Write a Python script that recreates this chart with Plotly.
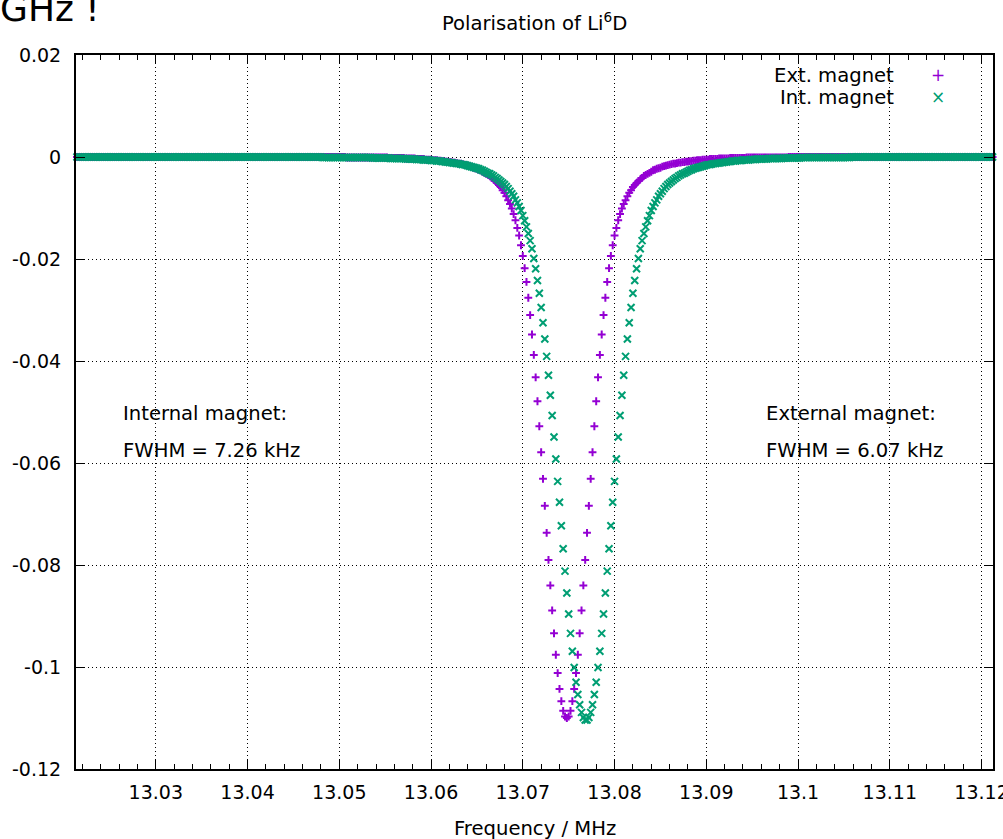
import plotly.graph_objects as go

# Frequency sweep (MHz): 501 points, 0.2 kHz apart
FREQ_MHZ = [
    13.0214, 13.0216, 13.0218, 13.0220, 13.0222, 13.0224, 13.0226, 13.0228, 13.0230, 13.0232,
    13.0234, 13.0236, 13.0238, 13.0240, 13.0242, 13.0244, 13.0246, 13.0248, 13.0250, 13.0252,
    13.0254, 13.0256, 13.0258, 13.0260, 13.0262, 13.0264, 13.0266, 13.0268, 13.0270, 13.0272,
    13.0274, 13.0276, 13.0278, 13.0280, 13.0282, 13.0284, 13.0286, 13.0288, 13.0290, 13.0292,
    13.0294, 13.0296, 13.0298, 13.0300, 13.0302, 13.0304, 13.0306, 13.0308, 13.0310, 13.0312,
    13.0314, 13.0316, 13.0318, 13.0320, 13.0322, 13.0324, 13.0326, 13.0328, 13.0330, 13.0332,
    13.0334, 13.0336, 13.0338, 13.0340, 13.0342, 13.0344, 13.0346, 13.0348, 13.0350, 13.0352,
    13.0354, 13.0356, 13.0358, 13.0360, 13.0362, 13.0364, 13.0366, 13.0368, 13.0370, 13.0372,
    13.0374, 13.0376, 13.0378, 13.0380, 13.0382, 13.0384, 13.0386, 13.0388, 13.0390, 13.0392,
    13.0394, 13.0396, 13.0398, 13.0400, 13.0402, 13.0404, 13.0406, 13.0408, 13.0410, 13.0412,
    13.0414, 13.0416, 13.0418, 13.0420, 13.0422, 13.0424, 13.0426, 13.0428, 13.0430, 13.0432,
    13.0434, 13.0436, 13.0438, 13.0440, 13.0442, 13.0444, 13.0446, 13.0448, 13.0450, 13.0452,
    13.0454, 13.0456, 13.0458, 13.0460, 13.0462, 13.0464, 13.0466, 13.0468, 13.0470, 13.0472,
    13.0474, 13.0476, 13.0478, 13.0480, 13.0482, 13.0484, 13.0486, 13.0488, 13.0490, 13.0492,
    13.0494, 13.0496, 13.0498, 13.0500, 13.0502, 13.0504, 13.0506, 13.0508, 13.0510, 13.0512,
    13.0514, 13.0516, 13.0518, 13.0520, 13.0522, 13.0524, 13.0526, 13.0528, 13.0530, 13.0532,
    13.0534, 13.0536, 13.0538, 13.0540, 13.0542, 13.0544, 13.0546, 13.0548, 13.0550, 13.0552,
    13.0554, 13.0556, 13.0558, 13.0560, 13.0562, 13.0564, 13.0566, 13.0568, 13.0570, 13.0572,
    13.0574, 13.0576, 13.0578, 13.0580, 13.0582, 13.0584, 13.0586, 13.0588, 13.0590, 13.0592,
    13.0594, 13.0596, 13.0598, 13.0600, 13.0602, 13.0604, 13.0606, 13.0608, 13.0610, 13.0612,
    13.0614, 13.0616, 13.0618, 13.0620, 13.0622, 13.0624, 13.0626, 13.0628, 13.0630, 13.0632,
    13.0634, 13.0636, 13.0638, 13.0640, 13.0642, 13.0644, 13.0646, 13.0648, 13.0650, 13.0652,
    13.0654, 13.0656, 13.0658, 13.0660, 13.0662, 13.0664, 13.0666, 13.0668, 13.0670, 13.0672,
    13.0674, 13.0676, 13.0678, 13.0680, 13.0682, 13.0684, 13.0686, 13.0688, 13.0690, 13.0692,
    13.0694, 13.0696, 13.0698, 13.0700, 13.0702, 13.0704, 13.0706, 13.0708, 13.0710, 13.0712,
    13.0714, 13.0716, 13.0718, 13.0720, 13.0722, 13.0724, 13.0726, 13.0728, 13.0730, 13.0732,
    13.0734, 13.0736, 13.0738, 13.0740, 13.0742, 13.0744, 13.0746, 13.0748, 13.0750, 13.0752,
    13.0754, 13.0756, 13.0758, 13.0760, 13.0762, 13.0764, 13.0766, 13.0768, 13.0770, 13.0772,
    13.0774, 13.0776, 13.0778, 13.0780, 13.0782, 13.0784, 13.0786, 13.0788, 13.0790, 13.0792,
    13.0794, 13.0796, 13.0798, 13.0800, 13.0802, 13.0804, 13.0806, 13.0808, 13.0810, 13.0812,
    13.0814, 13.0816, 13.0818, 13.0820, 13.0822, 13.0824, 13.0826, 13.0828, 13.0830, 13.0832,
    13.0834, 13.0836, 13.0838, 13.0840, 13.0842, 13.0844, 13.0846, 13.0848, 13.0850, 13.0852,
    13.0854, 13.0856, 13.0858, 13.0860, 13.0862, 13.0864, 13.0866, 13.0868, 13.0870, 13.0872,
    13.0874, 13.0876, 13.0878, 13.0880, 13.0882, 13.0884, 13.0886, 13.0888, 13.0890, 13.0892,
    13.0894, 13.0896, 13.0898, 13.0900, 13.0902, 13.0904, 13.0906, 13.0908, 13.0910, 13.0912,
    13.0914, 13.0916, 13.0918, 13.0920, 13.0922, 13.0924, 13.0926, 13.0928, 13.0930, 13.0932,
    13.0934, 13.0936, 13.0938, 13.0940, 13.0942, 13.0944, 13.0946, 13.0948, 13.0950, 13.0952,
    13.0954, 13.0956, 13.0958, 13.0960, 13.0962, 13.0964, 13.0966, 13.0968, 13.0970, 13.0972,
    13.0974, 13.0976, 13.0978, 13.0980, 13.0982, 13.0984, 13.0986, 13.0988, 13.0990, 13.0992,
    13.0994, 13.0996, 13.0998, 13.1000, 13.1002, 13.1004, 13.1006, 13.1008, 13.1010, 13.1012,
    13.1014, 13.1016, 13.1018, 13.1020, 13.1022, 13.1024, 13.1026, 13.1028, 13.1030, 13.1032,
    13.1034, 13.1036, 13.1038, 13.1040, 13.1042, 13.1044, 13.1046, 13.1048, 13.1050, 13.1052,
    13.1054, 13.1056, 13.1058, 13.1060, 13.1062, 13.1064, 13.1066, 13.1068, 13.1070, 13.1072,
    13.1074, 13.1076, 13.1078, 13.1080, 13.1082, 13.1084, 13.1086, 13.1088, 13.1090, 13.1092,
    13.1094, 13.1096, 13.1098, 13.1100, 13.1102, 13.1104, 13.1106, 13.1108, 13.1110, 13.1112,
    13.1114, 13.1116, 13.1118, 13.1120, 13.1122, 13.1124, 13.1126, 13.1128, 13.1130, 13.1132,
    13.1134, 13.1136, 13.1138, 13.1140, 13.1142, 13.1144, 13.1146, 13.1148, 13.1150, 13.1152,
    13.1154, 13.1156, 13.1158, 13.1160, 13.1162, 13.1164, 13.1166, 13.1168, 13.1170, 13.1172,
    13.1174, 13.1176, 13.1178, 13.1180, 13.1182, 13.1184, 13.1186, 13.1188, 13.1190, 13.1192,
    13.1194, 13.1196, 13.1198, 13.1200, 13.1202, 13.1204, 13.1206, 13.1208, 13.1210, 13.1212,
    13.1214,
]

# Polarisation, external magnet (purple +)
EXT_MAGNET = [
    0, 0, 0, 0, 0, 0, 0, 0, 0, 0,
    0, 0, 0, 0, 0, 0, 0, 0, 0, 0,
    0, 0, 0, 0, 0, 0, 0, 0, 0, 0,
    0, 0, 0, 0, 0, 0, 0, 0, 0, 0,
    0, 0, 0, 0, 0, 0, 0, 0, 0, 0,
    0, 0, 0, 0, 0, 0, 0, 0, 0, 0,
    0, 0, 0, 0, 0, 0, 0, 0, 0, 0,
    0, 0, 0, 0, 0, 0, 0, 0, 0, 0,
    0, 0, 0, 0, 0, 0, 0, 0, 0, 0,
    0, 0, 0, 0, 0, 0, 0, 0, 0, 0,
    0, 0, 0, 0, 0, 0, 0, 0, 0, 0,
    0, 0, 0, 0, 0, 0, 0, 0, 0, 0,
    0, 0, 0, 0, 0, 0, 0, 0, 0, 0,
    0, 0, 0, 0, 0, 0, 0, 0, 0, 0,
    0, 0, 0, 0, 0, 0, 0, -0.0001, -0.0001, -0.0001,
    -0.0001, -0.0001, -0.0001, -0.0001, -0.0001, -0.0001, -0.0001, -0.0001, -0.0001, -0.0001,
    -0.0001, -0.0001, -0.0001, -0.0001, -0.0001, -0.0001, -0.0001, -0.0001, -0.0001, -0.0001,
    -0.0002, -0.0002, -0.0002, -0.0002, -0.0002, -0.0002, -0.0002, -0.0002, -0.0002, -0.0003,
    -0.0003, -0.0003, -0.0003, -0.0003, -0.0003, -0.0004, -0.0004, -0.0004, -0.0004, -0.0004,
    -0.0005, -0.0005, -0.0005, -0.0005, -0.0006, -0.0006, -0.0006, -0.0007, -0.0007, -0.0008,
    -0.0008, -0.0009, -0.0009, -0.0010, -0.0010, -0.0011, -0.0011, -0.0012, -0.0013, -0.0013,
    -0.0014, -0.0015, -0.0016, -0.0017, -0.0018, -0.0019, -0.0021, -0.0022, -0.0023, -0.0025,
    -0.0026, -0.0029, -0.0031, -0.0033, -0.0035, -0.0037, -0.0041, -0.0044, -0.0047, -0.0051,
    -0.0055, -0.0059, -0.0065, -0.0070, -0.0077, -0.0085, -0.0092, -0.0101, -0.0112, -0.0124,
    -0.0139, -0.0154, -0.0173, -0.0194, -0.0218, -0.0245, -0.0276, -0.0310, -0.0348, -0.0388,
    -0.0432, -0.0479, -0.0528, -0.0579, -0.0631, -0.0684, -0.0737, -0.0790, -0.0840, -0.0889,
    -0.0934, -0.0976, -0.1012, -0.1043, -0.1067, -0.1086, -0.1097, -0.1100, -0.1097, -0.1086,
    -0.1067, -0.1043, -0.1012, -0.0976, -0.0934, -0.0889, -0.0840, -0.0790, -0.0737, -0.0684,
    -0.0631, -0.0579, -0.0528, -0.0479, -0.0432, -0.0388, -0.0348, -0.0310, -0.0276, -0.0245,
    -0.0218, -0.0194, -0.0173, -0.0154, -0.0139, -0.0124, -0.0112, -0.0101, -0.0092, -0.0085,
    -0.0077, -0.0070, -0.0065, -0.0059, -0.0055, -0.0051, -0.0047, -0.0044, -0.0041, -0.0037,
    -0.0035, -0.0033, -0.0031, -0.0029, -0.0026, -0.0025, -0.0023, -0.0022, -0.0021, -0.0019,
    -0.0018, -0.0017, -0.0016, -0.0015, -0.0014, -0.0013, -0.0013, -0.0012, -0.0011, -0.0011,
    -0.0010, -0.0010, -0.0009, -0.0009, -0.0008, -0.0008, -0.0007, -0.0007, -0.0006, -0.0006,
    -0.0006, -0.0005, -0.0005, -0.0005, -0.0005, -0.0004, -0.0004, -0.0004, -0.0004, -0.0004,
    -0.0003, -0.0003, -0.0003, -0.0003, -0.0003, -0.0003, -0.0002, -0.0002, -0.0002, -0.0002,
    -0.0002, -0.0002, -0.0002, -0.0002, -0.0002, -0.0001, -0.0001, -0.0001, -0.0001, -0.0001,
    -0.0001, -0.0001, -0.0001, -0.0001, -0.0001, -0.0001, -0.0001, -0.0001, -0.0001, -0.0001,
    -0.0001, -0.0001, -0.0001, -0.0001, -0.0001, -0.0001, -0.0001, -0.0001, 0, 0,
    0, 0, 0, 0, 0, 0, 0, 0, 0, 0,
    0, 0, 0, 0, 0, 0, 0, 0, 0, 0,
    0, 0, 0, 0, 0, 0, 0, 0, 0, 0,
    0, 0, 0, 0, 0, 0, 0, 0, 0, 0,
    0, 0, 0, 0, 0, 0, 0, 0, 0, 0,
    0, 0, 0, 0, 0, 0, 0, 0, 0, 0,
    0, 0, 0, 0, 0, 0, 0, 0, 0, 0,
    0, 0, 0, 0, 0, 0, 0, 0, 0, 0,
    0, 0, 0, 0, 0, 0, 0, 0, 0, 0,
    0, 0, 0, 0, 0, 0, 0, 0, 0, 0,
    0, 0, 0, 0, 0, 0, 0, 0, 0, 0,
    0,
]

# Polarisation, internal magnet (green x)
INT_MAGNET = [
    0, 0, 0, 0, 0, 0, 0, 0, 0, 0,
    0, 0, 0, 0, 0, 0, 0, 0, 0, 0,
    0, 0, 0, 0, 0, 0, 0, 0, 0, 0,
    0, 0, 0, 0, 0, 0, 0, 0, 0, 0,
    0, 0, 0, 0, 0, 0, 0, 0, 0, 0,
    0, 0, 0, 0, 0, 0, 0, 0, 0, 0,
    0, 0, 0, 0, 0, 0, 0, 0, 0, 0,
    0, 0, 0, 0, 0, 0, 0, 0, 0, 0,
    0, 0, 0, 0, 0, 0, 0, 0, 0, 0,
    0, 0, 0, 0, 0, 0, 0, 0, 0, 0,
    0, 0, 0, 0, 0, 0, 0, 0, 0, 0,
    0, 0, 0, 0, 0, 0, 0, 0, 0, 0,
    0, 0, 0, 0, 0, 0, 0, 0, 0, 0,
    0, 0, 0, 0, -0.0001, -0.0001, -0.0001, -0.0001, -0.0001, -0.0001,
    -0.0001, -0.0001, -0.0001, -0.0001, -0.0001, -0.0001, -0.0001, -0.0001, -0.0001, -0.0001,
    -0.0001, -0.0001, -0.0001, -0.0001, -0.0001, -0.0001, -0.0001, -0.0001, -0.0001, -0.0001,
    -0.0001, -0.0002, -0.0002, -0.0002, -0.0002, -0.0002, -0.0002, -0.0002, -0.0002, -0.0002,
    -0.0002, -0.0003, -0.0003, -0.0003, -0.0003, -0.0003, -0.0003, -0.0003, -0.0003, -0.0004,
    -0.0004, -0.0004, -0.0004, -0.0004, -0.0004, -0.0005, -0.0005, -0.0005, -0.0005, -0.0006,
    -0.0006, -0.0006, -0.0006, -0.0007, -0.0007, -0.0007, -0.0008, -0.0008, -0.0008, -0.0009,
    -0.0009, -0.0010, -0.0010, -0.0011, -0.0011, -0.0012, -0.0012, -0.0013, -0.0013, -0.0014,
    -0.0015, -0.0015, -0.0016, -0.0017, -0.0018, -0.0019, -0.0020, -0.0021, -0.0022, -0.0023,
    -0.0025, -0.0026, -0.0028, -0.0030, -0.0032, -0.0033, -0.0035, -0.0037, -0.0040, -0.0042,
    -0.0045, -0.0048, -0.0051, -0.0054, -0.0058, -0.0062, -0.0067, -0.0072, -0.0077, -0.0084,
    -0.0090, -0.0097, -0.0105, -0.0115, -0.0125, -0.0137, -0.0150, -0.0164, -0.0180, -0.0199,
    -0.0219, -0.0242, -0.0267, -0.0295, -0.0325, -0.0357, -0.0391, -0.0428, -0.0467, -0.0507,
    -0.0549, -0.0592, -0.0636, -0.0677, -0.0723, -0.0768, -0.0812, -0.0855, -0.0896, -0.0934,
    -0.0969, -0.1001, -0.1030, -0.1054, -0.1074, -0.1089, -0.1099, -0.1104, -0.1104, -0.1099,
    -0.1089, -0.1074, -0.1054, -0.1030, -0.1001, -0.0969, -0.0934, -0.0896, -0.0855, -0.0812,
    -0.0768, -0.0723, -0.0677, -0.0636, -0.0592, -0.0549, -0.0507, -0.0467, -0.0428, -0.0391,
    -0.0357, -0.0325, -0.0295, -0.0267, -0.0242, -0.0219, -0.0199, -0.0180, -0.0164, -0.0150,
    -0.0137, -0.0125, -0.0115, -0.0105, -0.0097, -0.0090, -0.0084, -0.0077, -0.0072, -0.0067,
    -0.0062, -0.0058, -0.0054, -0.0051, -0.0048, -0.0045, -0.0042, -0.0040, -0.0037, -0.0035,
    -0.0033, -0.0032, -0.0030, -0.0028, -0.0026, -0.0025, -0.0023, -0.0022, -0.0021, -0.0020,
    -0.0019, -0.0018, -0.0017, -0.0016, -0.0015, -0.0015, -0.0014, -0.0013, -0.0013, -0.0012,
    -0.0012, -0.0011, -0.0011, -0.0010, -0.0010, -0.0009, -0.0009, -0.0008, -0.0008, -0.0008,
    -0.0007, -0.0007, -0.0007, -0.0006, -0.0006, -0.0006, -0.0006, -0.0005, -0.0005, -0.0005,
    -0.0005, -0.0004, -0.0004, -0.0004, -0.0004, -0.0004, -0.0004, -0.0003, -0.0003, -0.0003,
    -0.0003, -0.0003, -0.0003, -0.0003, -0.0003, -0.0002, -0.0002, -0.0002, -0.0002, -0.0002,
    -0.0002, -0.0002, -0.0002, -0.0002, -0.0002, -0.0001, -0.0001, -0.0001, -0.0001, -0.0001,
    -0.0001, -0.0001, -0.0001, -0.0001, -0.0001, -0.0001, -0.0001, -0.0001, -0.0001, -0.0001,
    -0.0001, -0.0001, -0.0001, -0.0001, -0.0001, -0.0001, -0.0001, -0.0001, -0.0001, -0.0001,
    -0.0001, -0.0001, 0, 0, 0, 0, 0, 0, 0, 0,
    0, 0, 0, 0, 0, 0, 0, 0, 0, 0,
    0, 0, 0, 0, 0, 0, 0, 0, 0, 0,
    0, 0, 0, 0, 0, 0, 0, 0, 0, 0,
    0, 0, 0, 0, 0, 0, 0, 0, 0, 0,
    0, 0, 0, 0, 0, 0, 0, 0, 0, 0,
    0, 0, 0, 0, 0, 0, 0, 0, 0, 0,
    0, 0, 0, 0, 0, 0, 0, 0, 0, 0,
    0,
]

X_TICKS = [13.03, 13.04, 13.05, 13.06, 13.07, 13.08, 13.09, 13.10, 13.11, 13.12]
X_TICK_LABELS = ["13.03", "13.04", "13.05", "13.06", "13.07", "13.08", "13.09", "13.1", "13.11", "13.12"]
Y_TICKS = [0.02, 0, -0.02, -0.04, -0.06, -0.08, -0.1, -0.12]
Y_TICK_LABELS = ["0.02", "0", "-0.02", "-0.04", "-0.06", "-0.08", "-0.1", "-0.12"]

SERIES_NAMES = ["Ext. magnet", "Int. magnet"]
NOTES = [("Internal magnet:", "FWHM = 7.26 kHz"), ("External magnet:", "FWHM = 6.07 kHz")]

assert len(FREQ_MHZ) == len(EXT_MAGNET) == len(INT_MAGNET), (len(FREQ_MHZ), len(EXT_MAGNET), len(INT_MAGNET))

PURPLE = "#9400D3"
GREEN = "#009E73"
FONT = "DejaVu Sans"
FS_TICK = 19
FS = 19.6

W, H = 1003, 839
L, R, T, B = 76, 10, 55, 70
PW, PH = W - L - R, H - T - B


def px(x):
    return (x - L) / PW


def py(y):
    return (H - B - y) / PH


fig = go.Figure()
fig.add_trace(go.Scatter(
    x=FREQ_MHZ, y=EXT_MAGNET, mode="markers", name=SERIES_NAMES[0],
    marker=dict(symbol="cross-thin", size=5.6, color=PURPLE, line=dict(color=PURPLE, width=2)),
    cliponaxis=False, showlegend=False))
fig.add_trace(go.Scatter(
    x=FREQ_MHZ, y=INT_MAGNET, mode="markers", name=SERIES_NAMES[1],
    marker=dict(symbol="x-thin", size=7, color=GREEN, line=dict(color=GREEN, width=2)),
    cliponaxis=False, showlegend=False))

grid = dict(showgrid=True, gridcolor="#000000", gridwidth=1, griddash="1px,3px", zeroline=False,
            showline=True, linecolor="#000000", linewidth=2, mirror="ticks",
            ticks="inside", ticklen=9, tickwidth=1.3, tickcolor="#000000",
            automargin=False, ticklabeloverflow="allow",
            tickfont=dict(family=FONT, size=FS_TICK, color="#000000"))

fig.update_layout(
    width=W, height=H,
    margin=dict(l=L, r=R, t=T, b=B, pad=0, autoexpand=False),
    paper_bgcolor="white", plot_bgcolor="white",
    font=dict(family=FONT, size=FS, color="#000000"),
    showlegend=False,
    xaxis=dict(range=[13.0213, 13.12125], tickmode="array", tickvals=X_TICKS, ticktext=X_TICK_LABELS,
               ticklabelstandoff=5,
               minor=dict(tickmode="linear", tick0=13.02, dtick=0.002, ticks="inside", ticklen=5,
                          tickwidth=1.3, tickcolor="#000000", showgrid=False),
               **grid),
    yaxis=dict(range=[-0.12, 0.02], tickmode="array", tickvals=Y_TICKS, ticktext=Y_TICK_LABELS,
               ticklabelstandoff=9, **grid),
)

ann = []


def text(t, x, y, xanchor="left", size=FS, color="#000000"):
    ann.append(dict(text=t, x=x, y=y, xref="paper", yref="paper", xanchor=xanchor, yanchor="middle",
                    showarrow=False, font=dict(family=FONT, size=size, color=color)))


text("GHz !", px(-2), py(8), size=36)
text("Polarisation of Li<sup>6</sup>D", px(534), py(22), xanchor="center")
text("Frequency / MHz", px(535), py(828), xanchor="center")
text(SERIES_NAMES[0], px(896), py(75), xanchor="right")
text(SERIES_NAMES[1], px(896), py(97), xanchor="right")
text("+", px(938), py(75), xanchor="center", size=17, color=PURPLE)
text("×", px(938), py(97), xanchor="center", size=17, color=GREEN)
text(NOTES[0][0], px(121), py(413))
text(NOTES[0][1], px(121), py(450))
text(NOTES[1][0], px(764), py(413))
text(NOTES[1][1], px(764), py(450))
fig.update_layout(annotations=ann)

fig.write_html("out.html")
